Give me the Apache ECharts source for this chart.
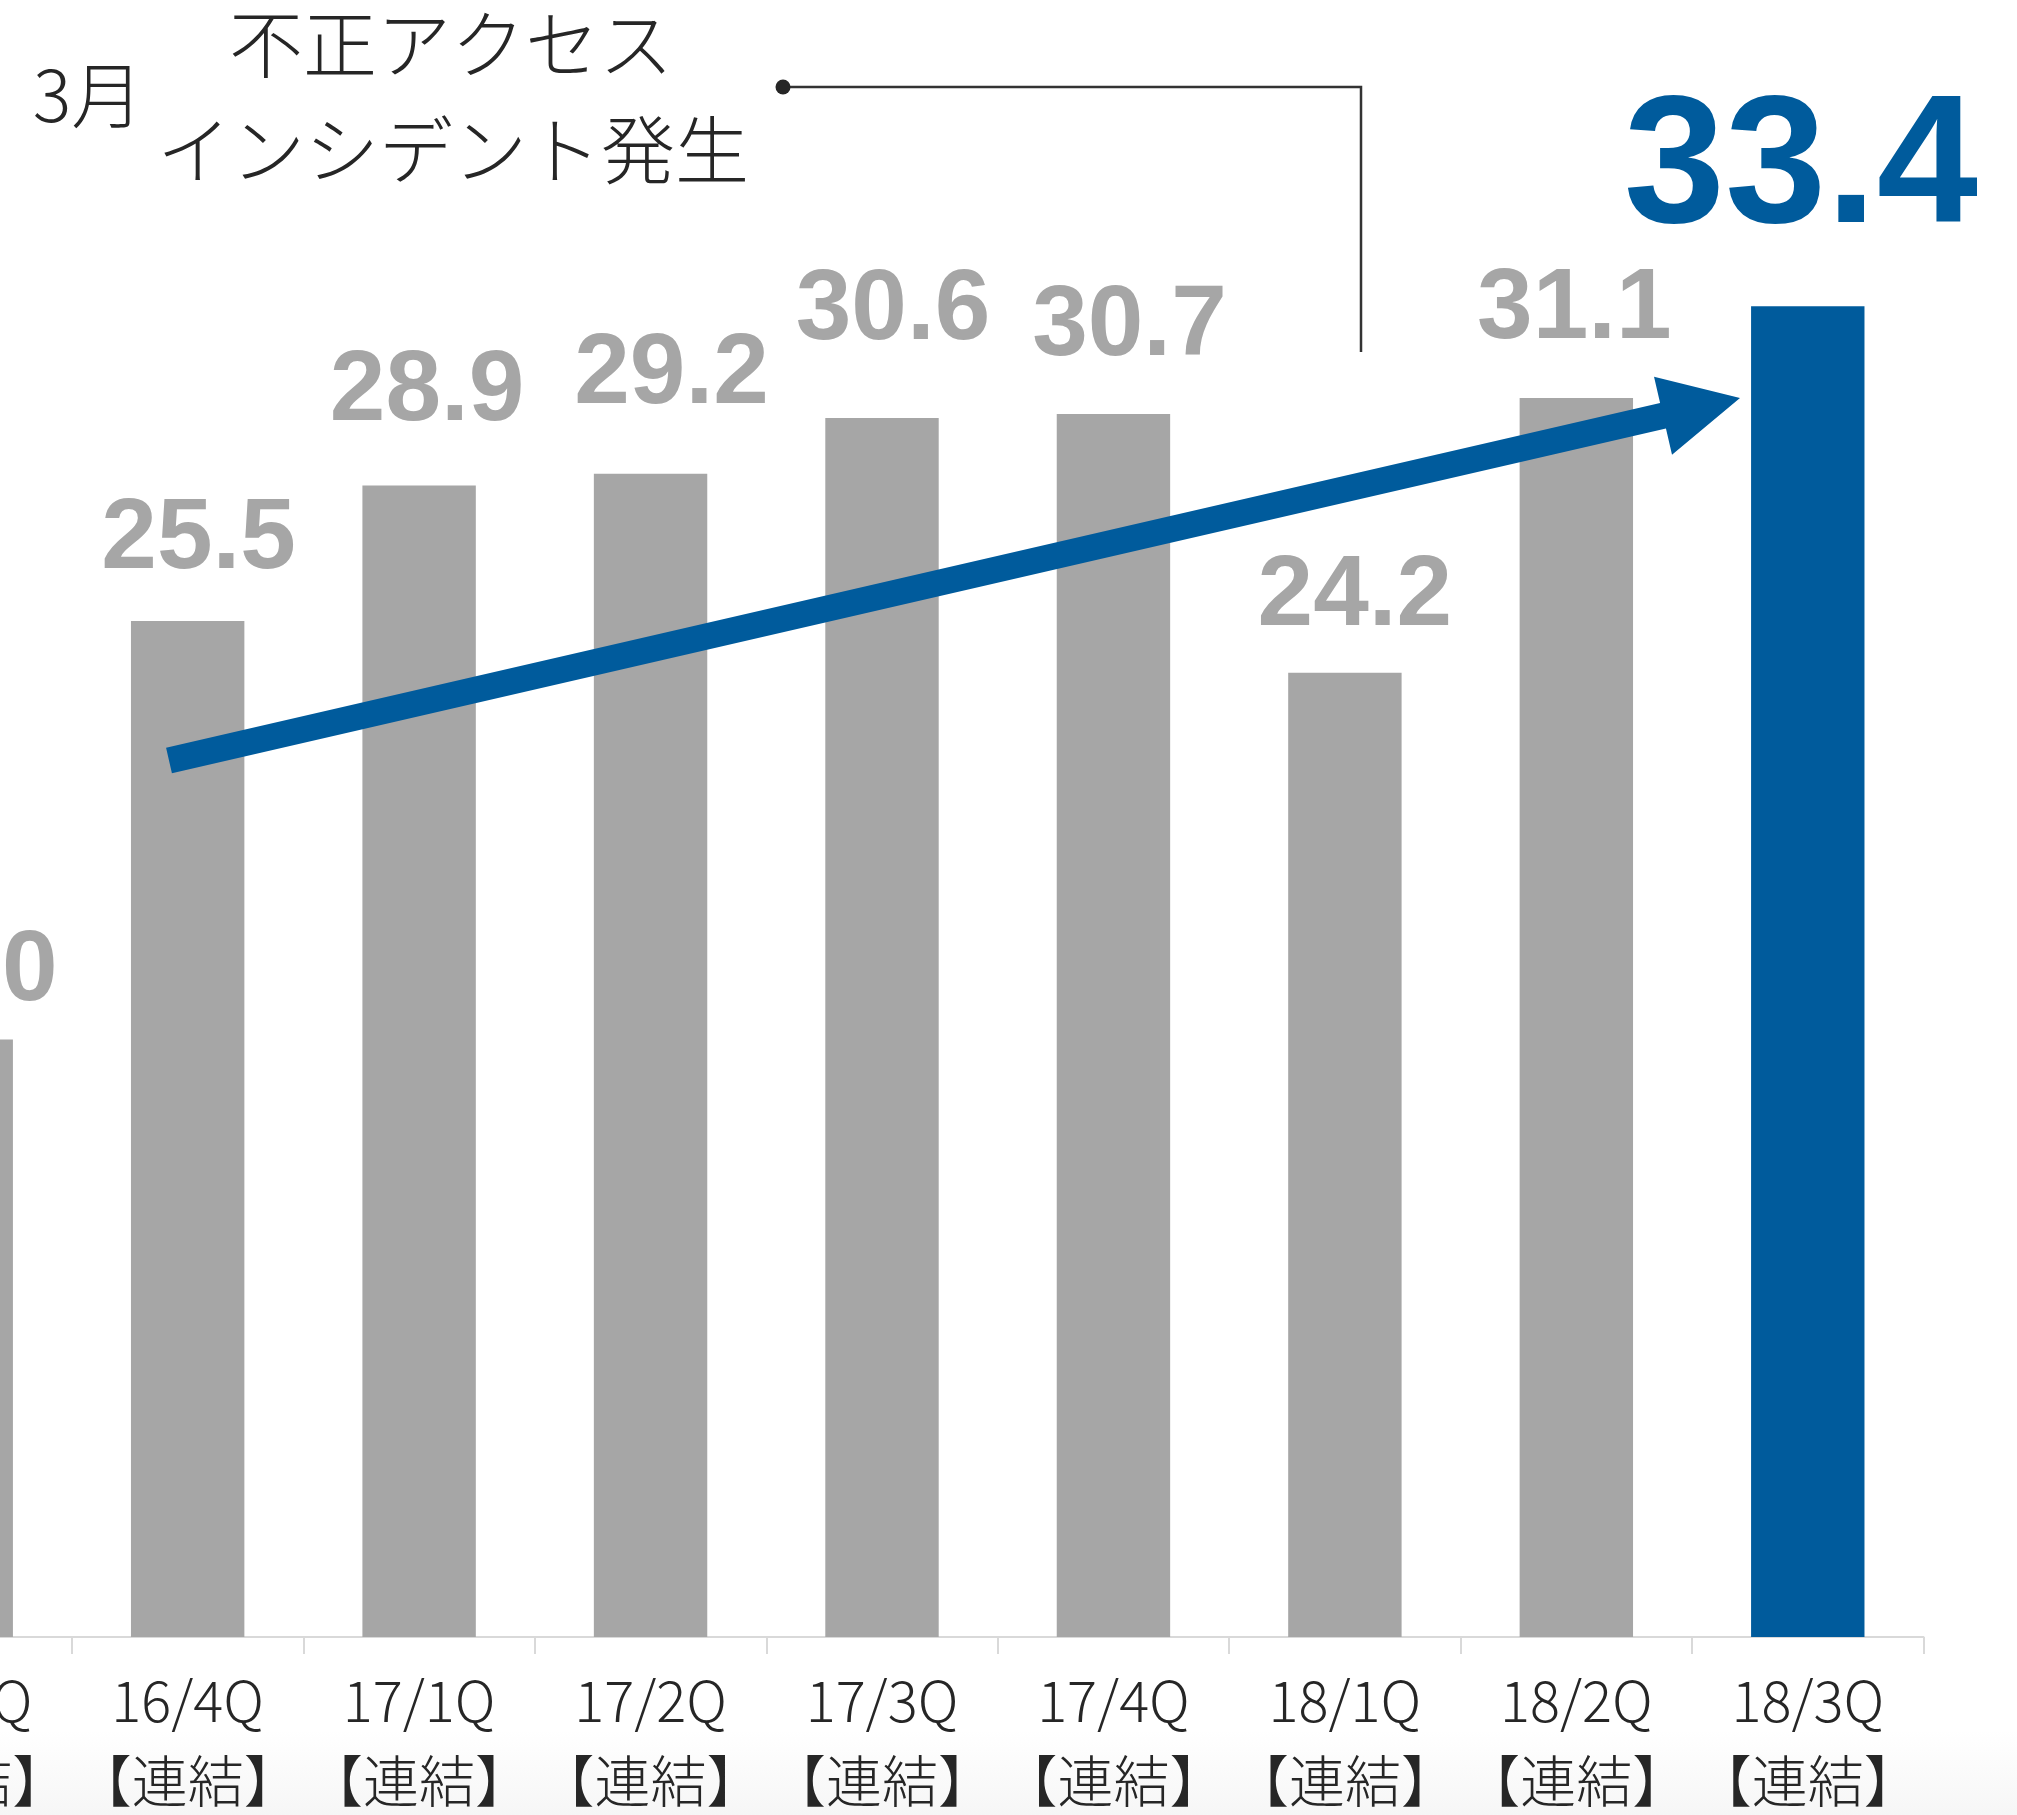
<!DOCTYPE html>
<html>
<head>
<meta charset="utf-8">
<script src="https://cdn.jsdelivr.net/npm/echarts@6/dist/echarts.min.js"></script>
<style>
  html, body { margin: 0; padding: 0; overflow: hidden; }
  body { background: linear-gradient(to bottom, #ffffff 0px, #ffffff 1730px, #f6f6f6 1815px); }
  #chart { width: 2017px; height: 1815px; }
</style>
</head>
<body>
<div id="chart"></div>
<script>
// Quarterly net sales (億円), consolidated
const categories = ['16/3Q', '16/4Q', '17/1Q', '17/2Q', '17/3Q', '17/4Q', '18/1Q', '18/2Q', '18/3Q'];
const categorySuffix = '【連結】';
const sales = [15.0, 25.5, 28.9, 29.2, 30.6, 30.7, 24.2, 31.1, 33.4];
const highlightIndex = 8;

// Incident annotation
const incidentMonth = '3月';
const incidentLines = ['不正アクセス', 'インシデント発生'];

// Hand placement of value labels: gap above the bar and sideways shift (px)
const labelLift = [36, 50, 63, 68, 76, 56, 45, 57, 79];
const labelShift = [4, 11, 8, 21, 11, 16, 10, -2, -7];

const GRAY = '#a6a6a6';
const BLUE = '#005b9c';
const INK = '#262626';
const NUM_FONT = "'Liberation Sans Narrow', 'Arial Narrow', 'Liberation Sans', sans-serif";
const JP_FONT = "'Noto Sans CJK JP', 'Noto Sans', sans-serif";

const chart = echarts.init(document.getElementById('chart'), null, { renderer: 'canvas' });

function labelFor(i) {
  const big = i === highlightIndex;
  const size = big ? 182 : 100;
  // digit baseline sits ~0.195em above the label box bottom
  const dy = 0.195 * size - labelLift[i];
  return {
    show: true,
    position: 'top',
    distance: 0,
    offset: [labelShift[i], dy],
    formatter: (p) => p.value.toFixed(1),
    color: big ? BLUE : GRAY,
    fontFamily: NUM_FONT,
    fontWeight: 'bold',
    fontSize: size
  };
}

const seriesData = sales.map((v, i) => ({
  value: v,
  itemStyle: { color: i === highlightIndex ? BLUE : GRAY },
  label: labelFor(i)
}));

// Trend arrow geometry (pixels)
const arrowTail = [169, 760.5];
const arrowTip = [1740, 398];
const dxA = arrowTip[0] - arrowTail[0];
const dyA = arrowTail[1] - arrowTip[1];
const arrowLen = Math.sqrt(dxA * dxA + dyA * dyA);
const arrowAngle = Math.atan2(dyA, dxA);
const shaftHalf = 13, headLen = 79, headHalf = 40;

const option = {
  backgroundColor: 'transparent',
  animation: false,
  grid: {
    left: -159.5,
    right: 93.5,
    top: 43.4,
    bottom: 178,
    containLabel: false,
    outerBoundsMode: 'none'
  },
  xAxis: {
    type: 'category',
    data: categories,
    boundaryGap: true,
    axisLine: { show: true, lineStyle: { color: '#d9d9d9', width: 2 } },
    axisTick: { show: true, alignWithLabel: false, length: 17, lineStyle: { color: '#d9d9d9', width: 2 } },
    axisLabel: {
      interval: 0,
      margin: 24,
      color: INK,
      fontFamily: JP_FONT,
      fontWeight: 300,
      fontSize: 56,
      lineHeight: 80,
      formatter: (v) => v + '\n' + categorySuffix
    },
    splitLine: { show: false }
  },
  yAxis: {
    type: 'value',
    min: 0,
    max: 40,
    show: false,
    splitLine: { show: false }
  },
  series: [{
    type: 'bar',
    data: seriesData,
    barWidth: '49%',
    z: 2
  }],
  graphic: {
    elements: [
      {
        type: 'polygon',
        x: arrowTail[0],
        y: arrowTail[1],
        rotation: arrowAngle,
        z: 100,
        zlevel: 1,
        shape: {
          points: [
            [0, -shaftHalf], [arrowLen - headLen, -shaftHalf], [arrowLen - headLen, -headHalf],
            [arrowLen, 0],
            [arrowLen - headLen, headHalf], [arrowLen - headLen, shaftHalf], [0, shaftHalf]
          ]
        },
        style: { fill: BLUE }
      },
      {
        type: 'polyline',
        z: 100,
        zlevel: 1,
        shape: { points: [[783, 87], [1361, 87], [1361, 352]] },
        style: { stroke: '#333333', lineWidth: 2.5, fill: null }
      },
      {
        type: 'circle',
        z: 101,
        zlevel: 1,
        shape: { cx: 783, cy: 87, r: 7.5 },
        style: { fill: INK }
      },
      {
        type: 'text',
        z: 101,
        zlevel: 1,
        x: 88, y: 95,
        style: {
          text: incidentMonth, fill: INK, font: "300 72px 'Noto Sans CJK JP', sans-serif",
          textAlign: 'center', textVerticalAlign: 'middle'
        }
      },
      {
        type: 'text',
        z: 101,
        zlevel: 1,
        x: 451, y: 44,
        style: {
          text: incidentLines[0], fill: INK, font: "300 74px 'Noto Sans CJK JP', sans-serif",
          textAlign: 'center', textVerticalAlign: 'middle'
        }
      },
      {
        type: 'text',
        z: 101,
        zlevel: 1,
        x: 453, y: 149.5,
        style: {
          text: incidentLines[1], fill: INK, font: "300 74px 'Noto Sans CJK JP', sans-serif",
          textAlign: 'center', textVerticalAlign: 'middle'
        }
      }
    ]
  }
};

chart.setOption(option);
</script>
</body>
</html>
